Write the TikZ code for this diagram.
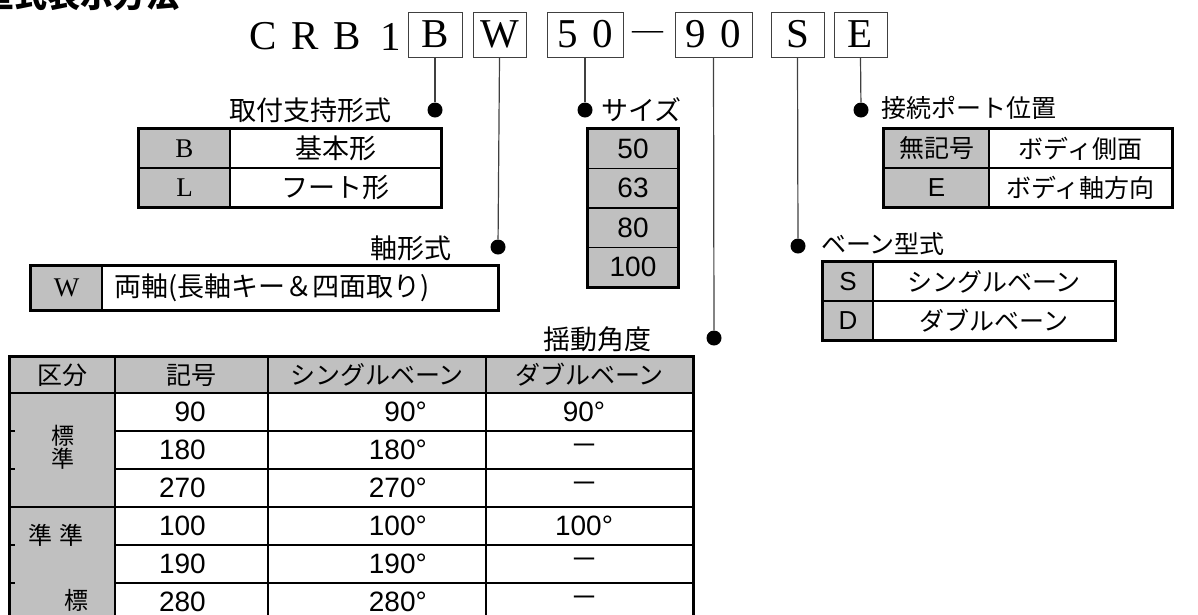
\documentclass[tikz,border=0pt]{standalone}
\usepackage{fontspec}
\newfontfamily\jp{Noto Sans CJK JP}
\newfontfamily\ser{Liberation Serif}
\newfontfamily\gos{Liberation Sans}
\newcommand\fsz[1]{\fontsize{#1}{#1}\selectfont}
\definecolor{cellgray}{RGB}{192,192,192}

\begin{document}
\begin{tikzpicture}[x=1pt,y=-1pt,
    box/.style={draw=black!75,line width=0.9pt,minimum height=45,inner sep=0,font=\ser\fsz{41}},
    dot/.style={circle,fill,inner sep=0,minimum size=15},
    lead/.style={draw=black!75,line width=1.2pt},
    lbl/.style={font=\jp\fsz{27},inner sep=0},
    glbl/.style={font=\jp\fsz{25},inner sep=0},
    cell/.style={draw,line width=1.3pt,inner sep=0,minimum height=39,font=\jp\fsz{25}},
    gcell/.style={cell,fill=cellgray},
    num/.style={font=\gos\fsz{28},inner sep=0},
    frame/.style={draw,line width=2.2pt}]
  \useasboundingbox (0,0) rectangle (1198,614);

  % title, cut at the top
  \node[font=\jp\bfseries\fsz{33},anchor=west,inner sep=0] (title) at (-19,-5) {型式表示方法};

  % part number
  \foreach \c/\x [count=\i] in {C/263,R/305,B/347,1/391}
    \node[font=\ser\fsz{41},inner sep=0] (p\i) at (\x,36.5) {\c};
  \node[box,minimum width=54] (b) at (435,34.5) {B};
  \node[box,minimum width=53] (w) at (499.5,34.5) {W};
  \node[box,minimum width=76] (sz) at (585,34.5) {5\hspace{15pt}0};
  \node[font=\ser\fsz{31},inner sep=0] (dash) at (647.5,35) {—};
  \node[box,minimum width=77] (ang) at (713.5,34.5) {9\hspace{15pt}0};
  \node[box,minimum width=53] (s) at (797.5,34.5) {S};
  \node[box,minimum width=53] (e) at (860.5,34.5) {E};

  % dots and labels
  \node[dot] (db) at (435,110) {};
  \node[dot] (dw) at (498,247) {};
  \node[dot] (dsz) at (585,110) {};
  \node[dot] (dang) at (714,338) {};
  \node[dot] (ds) at (798,246) {};
  \node[dot] (de) at (861,110) {};
  \node[lbl,anchor=east] (lb) at (392,110) {取付支持形式};
  \node[lbl,anchor=east] (lw) at (452,248) {軸形式};
  \node[lbl,anchor=west] (lsz) at (601,110) {サイズ};
  \node[lbl,anchor=east] (lang) at (652,339) {揺動角度};
  \node[glbl,anchor=west] (ls) at (821,244) {ベーン型式};
  \node[glbl,anchor=west] (le) at (881,108) {接続ポート位置};

  \draw[lead] (b.south) -- (db);
  \draw[lead] (w.south) -- (dw);
  \draw[lead] (sz.south) -- (dsz);
  \draw[lead] (ang.south) -- (dang);
  \draw[lead] (s.south) -- (ds);
  \draw[lead] (e.south) -- (de);

  % mounting
  \node[gcell,minimum width=91,font=\ser\fsz{27}] (tbB) at (184.5,148.5) {B};
  \node[cell,minimum width=211,font=\jp\fsz{27}] (tbBt) at (335.5,148.5) {基本形};
  \node[gcell,minimum width=91,font=\ser\fsz{27}] (tbL) at (184.5,187.5) {L};
  \node[cell,minimum width=211,font=\jp\fsz{27}] (tbLt) at (335.5,187.5) {フート形};
  \draw[frame] (tbB.north west) rectangle (tbLt.south east);

  % shaft
  \node[gcell,minimum width=71,minimum height=44,font=\ser\fsz{27}] (twW) at (66.5,288) {W};
  \node[cell,minimum width=396,minimum height=44] (twT) at (300,288) {};
  \node[lbl,anchor=west] (twTx) at (114,288) {両軸(長軸キー＆四面取り)};
  \draw[frame] (twW.north west) rectangle (twT.south east);

  % size
  \foreach \v/\y in {50/148.75,63/188.25,80/227.75,100/267.25}
    \node[gcell,minimum width=90,minimum height=39.5,font=\gos\fsz{28}] (tz\v) at (633,\y) {\v};
  \draw[frame] (tz50.north west) rectangle (tz100.south east);

  % port
  \node[gcell,minimum width=105] (tpN) at (936.5,148.5) {無記号};
  \node[cell,minimum width=183] (tpNt) at (1080.5,148.5) {ボディ側面};
  \node[gcell,minimum width=105,font=\gos\fsz{26}] (tpE) at (936.5,187.5) {E};
  \node[cell,minimum width=183] (tpEt) at (1080.5,187.5) {ボディ軸方向};
  \draw[frame] (tpN.north west) rectangle (tpEt.south east);

  % vane
  \node[gcell,minimum width=50,font=\gos\fsz{26}] (tvS) at (848,281.5) {S};
  \node[cell,minimum width=242] (tvSt) at (994,281.5) {シングルベーン};
  \node[gcell,minimum width=50,font=\gos\fsz{26}] (tvD) at (848,320.5) {D};
  \node[cell,minimum width=242] (tvDt) at (994,320.5) {ダブルベーン};
  \draw[frame] (tvS.north west) rectangle (tvDt.south east);

  % rotation table
  \node[gcell,minimum width=105,minimum height=36] (h1) at (62.5,375) {区分};
  \node[gcell,minimum width=153,minimum height=36] (h2) at (191.5,375) {記号};
  \node[gcell,minimum width=218,minimum height=36] (h3) at (377,375) {シングルベーン};
  \node[gcell,minimum width=207,minimum height=36] (h4) at (589.5,375) {ダブルベーン};
  \node[gcell,minimum width=105,minimum height=114] (g1) at (62.5,450) {};
  \node[gcell,minimum width=105,minimum height=114] (g2) at (62.5,564) {};
  \node[glbl,align=center,font=\jp\fsz{23}] (g1t) at (62.5,447) {標\\準};
  \node[glbl,font=\jp\fsz{24}] (g2t) at (56,535) {準\hspace{8pt}準};
  \node[glbl,font=\jp\fsz{24}] (g2b) at (76,600) {標};
  \foreach \y/\k/\sv/\dv [count=\i] in {412/90/90°/90°, 450/180/180°/{\jp －}, 488/270/270°/{\jp －},
      526/100/100°/100°, 564/190/190°/{\jp －}, 602/280/280°/{\jp －}} {
    \node[cell,minimum width=153,minimum height=38] (r\i a) at (191.5,\y) {};
    \node[cell,minimum width=218,minimum height=38] (r\i b) at (377,\y) {};
    \node[cell,minimum width=207,minimum height=38] (r\i c) at (589.5,\y) {};
    \node[num,anchor=east] (r\i k) at (206,\y) {\k};
    \node[num,anchor=east] (r\i s) at (427,\y) {\sv};
    \node[num] (r\i d) at (584,\y) {\dv};
  }
  \draw[frame] (h1.south west) |- (h4.north east) -- (r6c.south east);
  \draw[frame] (g1.north west) -- (g2.south west);
  \foreach \y in {431,469,545,583}
    \draw[line width=1.3pt] (10,\y) -- (15,\y);
\end{tikzpicture}
\end{document}
